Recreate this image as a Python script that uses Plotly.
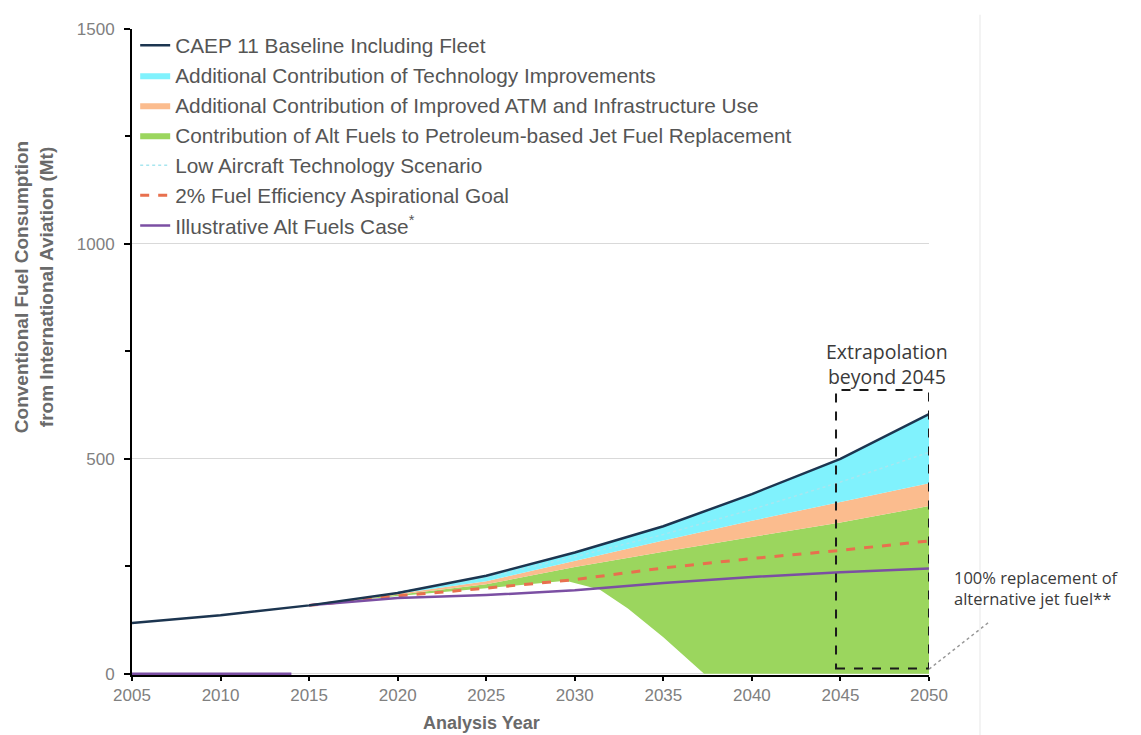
import plotly.graph_objects as go

years = [2005, 2010, 2015, 2020, 2025, 2030, 2035, 2040, 2045, 2050]
baseline = [118, 136, 159, 188, 228, 282, 343, 418, 500, 604]

fill_years = [2015, 2020, 2025, 2030, 2035, 2040, 2045, 2050]
tech_top = [159, 186, 215, 263, 310, 356, 400, 443]      # after technology improvements
atm_top = [159, 184, 208, 248, 284, 318, 352, 390]       # after ATM / infrastructure

lowtech_years = [2020, 2025, 2030, 2035, 2040, 2045, 2050]
lowtech = [190, 224, 272, 324, 382, 446, 515]

goal_years = [2015, 2020, 2025, 2030, 2035, 2040, 2045, 2050]
goal2pct = [159, 181, 199, 219, 246, 268, 287, 309]

alt_years = [2015, 2020, 2025, 2030, 2035, 2040, 2045, 2050]
alt_case = [159, 176, 183, 194, 211, 225, 236, 245]
alt_zero_years = [2005, 2014]
alt_zero = [0, 0]

# lower boundary of alternative-fuel contribution (100% replacement path)
green_low_years = [2015, 2020, 2025, 2029.5, 2031.4, 2033, 2035, 2036.5, 2037.3, 2050]
green_low = [159, 181, 199, 216, 196, 152, 85, 30, 0, 0]

x_ticks = [2005, 2010, 2015, 2020, 2025, 2030, 2035, 2040, 2045, 2050]
y_ticks = [0, 500, 1000, 1500]
y_minor = [250, 750, 1250]

C_BASE = "#1c3550"
C_CYAN = "#80f2fd"
C_ORANGE = "#fbbc8e"
C_GREEN = "#9bd65e"
C_RED = "#e8704e"
C_PURPLE = "#7b4fa3"
C_LOW = "#a8e6ef"

fig = go.Figure()

fig.add_trace(go.Scatter(x=green_low_years, y=green_low, mode="lines",
                         line=dict(width=0), showlegend=False, hoverinfo="skip"))
fig.add_trace(go.Scatter(x=fill_years, y=atm_top, mode="lines", fill="tonexty",
                         fillcolor=C_GREEN, line=dict(width=0, color=C_GREEN),
                         name="Contribution of Alt Fuels to Petroleum-based Jet Fuel Replacement",
                         legendrank=4, legendgroup="g4"))
fig.add_trace(go.Scatter(x=fill_years, y=tech_top, mode="lines", fill="tonexty",
                         fillcolor=C_ORANGE, line=dict(width=0, color=C_ORANGE),
                         name="Additional Contribution of Improved ATM and Infrastructure Use",
                         legendrank=3, legendgroup="g3"))
fig.add_trace(go.Scatter(x=years[2:], y=baseline[2:], mode="lines", fill="tonexty",
                         fillcolor=C_CYAN, line=dict(width=0, color=C_CYAN),
                         name="Additional Contribution of Technology Improvements",
                         legendrank=2, legendgroup="g2"))
fig.add_trace(go.Scatter(x=lowtech_years, y=lowtech, mode="lines",
                         line=dict(color=C_LOW, width=1.5, dash="dot"),
                         name="Low Aircraft Technology Scenario",
                         legendrank=5, legendgroup="g5"))
fig.add_trace(go.Scatter(x=goal_years, y=goal2pct, mode="lines",
                         line=dict(color=C_RED, width=3, dash="dash"),
                         name="2% Fuel Efficiency Aspirational Goal",
                         legendrank=6, legendgroup="g6"))
fig.add_trace(go.Scatter(x=alt_years, y=alt_case, mode="lines",
                         line=dict(color=C_PURPLE, width=2.5),
                         name="Illustrative Alt Fuels Case<sup>*</sup>",
                         legendrank=7, legendgroup="g7"))
fig.add_trace(go.Scatter(x=alt_zero_years, y=alt_zero, mode="lines",
                         line=dict(color=C_PURPLE, width=2.5),
                         showlegend=False, legendgroup="g7"))
fig.add_trace(go.Scatter(x=years, y=baseline, mode="lines",
                         line=dict(color=C_BASE, width=2.5),
                         name="CAEP 11 Baseline Including Fleet",
                         legendrank=1, legendgroup="g1"))

# extrapolation box
fig.add_shape(type="rect", x0=2044.75, x1=2050, y0=12, y1=660, xref="x", yref="y",
              line=dict(color="#1a1a1a", width=2, dash="dash"), fillcolor="rgba(0,0,0,0)")
# connector from box to note
fig.add_shape(type="line", xref="paper", yref="paper", x0=1.0, y0=0.009, x1=1.0765, y1=0.083,
              line=dict(color="#999999", width=1.5, dash="dot"))
# faint page divider
fig.add_shape(type="line", xref="paper", yref="paper", x0=1.064, x1=1.064, y0=-0.094, y1=1.022,
              line=dict(color="#efefef", width=1.5))

fig.add_annotation(text="Extrapolation<br>beyond 2045", xref="paper", yref="paper",
                   x=0.947, y=0.4815, xanchor="center", yanchor="middle",
                   showarrow=False, align="center",
                   font=dict(family="Open Sans", size=19.5, color="#3a3a3a"))
fig.add_annotation(text="100% replacement of<br>alternative jet fuel**", xref="paper", yref="paper",
                   x=1.029, y=0.134, xanchor="left", yanchor="middle", showarrow=False, align="left",
                   font=dict(family="Open Sans", size=16.5, color="#3a3a3a"))
fig.add_annotation(text="<b>Analysis Year</b>", xref="paper", yref="paper",
                   x=0.438, y=-0.074, xanchor="center", yanchor="middle", showarrow=False,
                   font=dict(family="Liberation Sans", size=18, color="#6a6a6a"))
fig.add_annotation(text="<b>Conventional Fuel Consumption<br>from International Aviation (Mt)</b>",
                   xref="paper", yref="paper", x=-0.122, y=0.60, textangle=-90,
                   xanchor="center", yanchor="middle",
                   showarrow=False, align="center",
                   font=dict(family="Liberation Sans", size=19, color="#6a6a6a"))

fig.update_layout(
    width=1141, height=735,
    margin=dict(l=124, r=220, t=17, b=68),
    paper_bgcolor="white", plot_bgcolor="white",
    font=dict(family="Liberation Sans", color="#555555"),
    legend=dict(x=0.004, y=1.006, xanchor="left", yanchor="top",
                font=dict(family="Liberation Sans", size=20.8, color="#555555"),
                bgcolor="rgba(255,255,255,0)", traceorder="grouped", tracegroupgap=0,
                itemwidth=30),
    xaxis=dict(range=[2005, 2050], tickmode="array", tickvals=x_ticks,
               showgrid=False, zeroline=False, showline=True, linecolor="black", linewidth=2,
               ticks="outside", ticklen=4, tickcolor="black", tickwidth=1.5,
               tickfont=dict(family="Liberation Sans", size=17, color="#808080"),
               layer="below traces"),
    yaxis=dict(range=[-3, 1500], tickmode="array", tickvals=y_ticks,
               showgrid=True, gridcolor="#d9d9d9", gridwidth=1, zeroline=False,
               showline=True, linecolor="black", linewidth=2,
               ticks="outside", ticklen=6, tickcolor="black", tickwidth=1.5,
               ticklabelstandoff=6,
               minor=dict(tickvals=y_minor, ticks="outside", ticklen=5,
                          tickcolor="black", showgrid=False),
               tickfont=dict(family="Liberation Sans", size=17, color="#808080"),
               layer="below traces"),
)

fig.write_html("out.html")
